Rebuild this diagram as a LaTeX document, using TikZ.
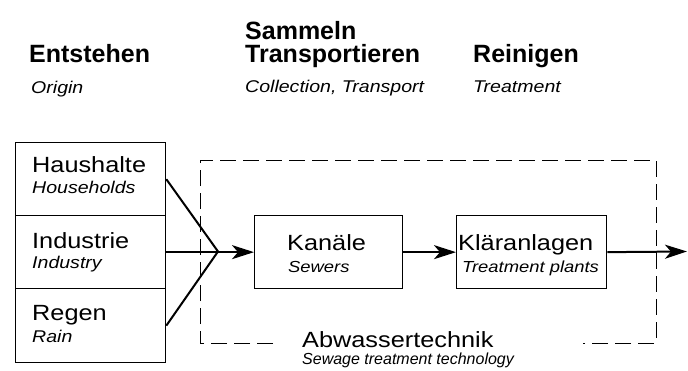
\documentclass[tikz,border=0pt]{standalone}
\usepackage{fontspec}
\setmainfont{Liberation Sans}
\newfontfamily\hdfont{Liberation Sans}
\newfontfamily\lbfont[FakeStretch=1.15]{Liberation Sans}
\usetikzlibrary{arrows.meta}
\tikzset{
  head/.style={anchor=base west, inner sep=0pt, font=\hdfont\bfseries\fontsize{25}{24}\selectfont},
  sub/.style={anchor=base west, inner sep=0pt, font=\lbfont\itshape\fontsize{16}{18}\selectfont},
  subl/.style={anchor=base west, inner sep=0pt, font=\lbfont\itshape\fontsize{17}{18}\selectfont},
  subs/.style={anchor=base west, inner sep=0pt, font=\hdfont\itshape\fontsize{16}{18}\selectfont},
  lbl/.style={anchor=base west, inner sep=0pt, font=\lbfont\fontsize{22}{24}\selectfont},
  box/.style={draw, line width=1.3pt, anchor=north west, inner sep=0pt},
  conn/.style={line width=2pt},
  arr/.style={line width=2pt, -{Stealth[length=22pt, width=14pt, inset=6pt]}},
  frame/.style={line width=1pt, dash pattern=on 16pt off 7pt}
}
\begin{document}
\begin{tikzpicture}[x=1pt, y=-1pt]
\useasboundingbox (0,0) rectangle (688,370);
% headers
\node[head] (h1) at (29,62) {Entstehen};
\node[subl] (s1) at (31,93) {Origin};
\node[head] (h2a) at (245,39) {Sammeln};
\node[head] (h2) at (245,62) {Transportieren};
\node[subl] (s2) at (245,92) {Collection, Transport};
\node[head] (h3) at (473,62) {Reinigen};
\node[subl] (s3) at (473,92) {Treatment};
% dashed frame
\coordinate (fa) at (273,343);
\coordinate (fb) at (200,343);
\coordinate (fc) at (200,160);
\coordinate (fd) at (656,160);
\coordinate (fe) at (656,343);
\coordinate (ff) at (583,343);
\draw[frame] (fa) -- (fb) -- (fc) -- (fd) -- (fe) -- (ff);
% left boxes
\node[box, minimum width=150pt, minimum height=73pt] (hh) at (15,142) {};
\node[box, minimum width=150pt, minimum height=73pt] (ind) at (15,215) {};
\node[box, minimum width=150pt, minimum height=74pt] (rg) at (15,288) {};
\node[lbl] (t1) at (32,172) {Haushalte};
\node[subl] (u1) at (32,193) {Households};
\node[lbl] (t2) at (32,248) {Industrie};
\node[subl] (u2) at (32,268) {Industry};
\node[lbl] (t3) at (32,320) {Regen};
\node[subl] (u3) at (32,342) {Rain};
% process boxes
\node[box, minimum width=148pt, minimum height=73pt] (kan) at (254,215) {};
\node[box, minimum width=150pt, minimum height=73pt] (kla) at (456,215) {};
\node[lbl] (t4) at (287,250) {Kanäle};
\node[sub] (u4) at (288,272) {Sewers};
\node[lbl] (t5) at (458,250) {Kläranlagen};
\node[sub] (u5) at (462,272) {Treatment plants};
% frame label
\node[lbl] (t6) at (302,347) {Abwassertechnik};
\node[subs] (u6) at (302,364) {Sewage treatment technology};
% connectors
\coordinate (j) at (218,251.5);
\coordinate (out) at (687,251.5);
\draw[conn] (hh.east) -- (j);
\draw[conn] (rg.east) -- (j);
\draw[arr] (ind.east) -- (kan.west);
\draw[arr] (kan.east) -- (kla.west);
\draw[arr] (kla.east) -- (out);
\end{tikzpicture}
\end{document}
